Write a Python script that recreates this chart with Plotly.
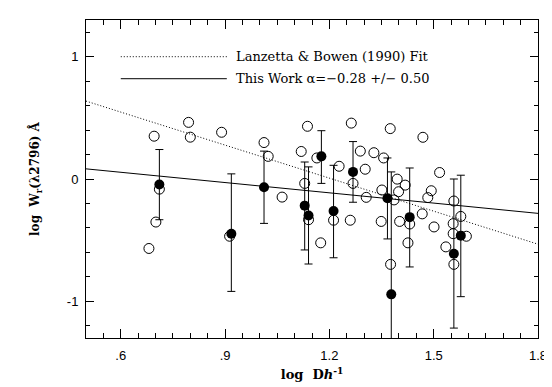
import plotly.graph_objects as go

# ---------------- data ----------------
open_x = [0.696, 0.795, 0.800, 0.890, 0.711, 0.701, 0.681, 0.913, 1.012, 1.024,
          1.064, 1.119, 1.137, 1.129, 1.140, 1.164, 1.175, 1.212, 1.228, 1.263,
          1.268, 1.260, 1.289, 1.303, 1.306, 1.328, 1.356, 1.375, 1.351, 1.349,
          1.376, 1.395, 1.418, 1.399, 1.386, 1.402, 1.431, 1.426, 1.469, 1.517,
          1.493, 1.483, 1.467, 1.501, 1.535, 1.558, 1.578, 1.556, 1.556, 1.594,
          1.558]
open_y = [0.350, 0.463, 0.342, 0.382, -0.083, -0.352, -0.568, -0.468, 0.298, 0.185,
          -0.148, 0.225, 0.431, -0.036, -0.333, 0.172, -0.522, -0.337, 0.104, 0.457,
          -0.036, -0.337, 0.228, 0.080, -0.150, 0.215, 0.172, 0.412, -0.090, -0.347,
          -0.698, -0.001, -0.050, -0.104, -0.171, -0.347, -0.368, -0.522, 0.341, 0.053,
          -0.096, -0.152, -0.285, -0.392, -0.555, -0.180, -0.306, -0.365, -0.447, -0.468,
          -0.698]

filled_x = [0.711, 0.918, 1.012, 1.129, 1.140, 1.177, 1.212, 1.268, 1.367, 1.378,
            1.431, 1.558, 1.578]
filled_y = [-0.045, -0.447, -0.067, -0.218, -0.298, 0.185, -0.261, 0.058, -0.158, -0.943,
            -0.312, -0.611, -0.463]
err_plus = [0.286, 0.489, 0.295, 0.357, 0.397, 0.210, 0.373, 0.248, 0.330, 1.001,
            0.402, 0.611, 0.494]
err_minus = [0.288, 0.472, 0.296, 0.362, 0.397, 0.221, 0.383, 0.248, 0.332, 1.000,
             0.407, 0.608, 0.499]

# fits: y = a + b * x
lb_a, lb_b = 1.087, -0.90          # Lanzetta & Bowen (1990)
tw_a, tw_b = 0.223, -0.28          # This Work
x_range = [0.5, 1.8]
y_range = [-1.3, 1.3]

x_tickvals = [0.6, 0.9, 1.2, 1.5, 1.8]
x_ticktext = [".6", ".9", "1.2", "1.5", "1.8"]
y_tickvals = [-1, 0, 1]
y_ticktext = ["-1", "0", "1"]

legend_labels = ["Lanzetta &amp; Bowen (1990) Fit",
                 "This Work α=−0.28 +/− 0.50"]
legend_y = [1.0, 0.82]
legend_x = [0.6, 0.905]

# ---------------- figure ----------------
fig = go.Figure()

fit_x = x_range
fig.add_trace(go.Scatter(x=fit_x, y=[lb_a + lb_b * v for v in fit_x], mode="lines",
                         line=dict(color="black", width=1, dash="1px,2px"),
                         hoverinfo="skip", showlegend=False))
fig.add_trace(go.Scatter(x=fit_x, y=[tw_a + tw_b * v for v in fit_x], mode="lines",
                         line=dict(color="black", width=1),
                         hoverinfo="skip", showlegend=False))

fig.add_trace(go.Scatter(x=open_x, y=open_y, mode="markers",
                         marker=dict(symbol="circle-open", size=10, color="black",
                                     line=dict(width=1, color="black")),
                         showlegend=False))

fig.add_trace(go.Scatter(x=filled_x, y=filled_y, mode="markers",
                         marker=dict(symbol="circle", size=10, color="black"),
                         error_y=dict(type="data", symmetric=False, array=err_plus,
                                      arrayminus=err_minus, color="black",
                                      thickness=1, width=4),
                         showlegend=False))

# legend samples
dashes = ["1px,2px", "solid"]
for lab, ly, d in zip(legend_labels, legend_y, dashes):
    fig.add_shape(type="line", xref="x", yref="y", x0=legend_x[0], x1=legend_x[1],
                  y0=ly, y1=ly, line=dict(color="black", width=1, dash=d))
    fig.add_annotation(xref="x", yref="y", x=legend_x[1] + 0.02, y=ly, text=lab,
                       showarrow=False, xanchor="left", yanchor="middle",
                       font=dict(family="DejaVu Serif", size=13, color="black"))

axis_common = dict(showline=True, linecolor="black", linewidth=1, mirror="ticks",
                   ticks="inside", tickcolor="black", showgrid=False, zeroline=False,
                   tickfont=dict(family="Liberation Sans", size=13, color="black"))

fig.update_xaxes(range=x_range, tickvals=x_tickvals, ticktext=x_ticktext, ticklen=9,
                 ticklabelstandoff=5,
                 minor=dict(ticks="inside", dtick=0.05, tick0=0.5, ticklen=5,
                            tickcolor="black", showgrid=False),
                 title=dict(text="<b>log  D<i>h</i><sup>-1</sup></b>", standoff=8,
                            font=dict(family="DejaVu Serif", size=13, color="black")),
                 **axis_common)
fig.update_yaxes(range=y_range, tickvals=y_tickvals, ticktext=y_ticktext, ticklen=8,
                 ticklabelstandoff=4,
                 minor=dict(ticks="inside", dtick=0.2, tick0=0, ticklen=4,
                            tickcolor="black", showgrid=False),
                 title=dict(text="<b>log  W<sub>r</sub>(λ2796) Å</b>", standoff=24,
                            font=dict(family="DejaVu Serif", size=12, color="black")),
                 **axis_common)

fig.update_layout(width=552, height=387, margin=dict(l=78, r=22, t=12, b=57),
                  plot_bgcolor="white", paper_bgcolor="white")

fig.write_html("out.html")
